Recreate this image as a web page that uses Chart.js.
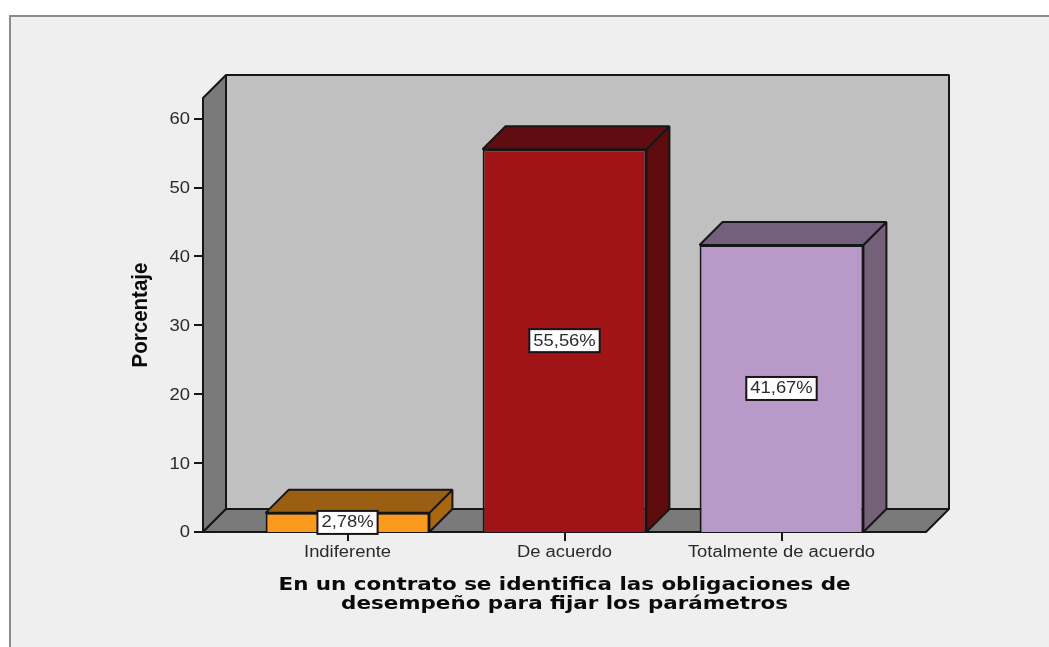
<!DOCTYPE html>
<html>
<head>
<meta charset="utf-8">
<style>
html,body{margin:0;padding:0;background:#fff;overflow:hidden}
#frame{position:absolute;left:9px;top:15px;width:1040px;height:632px;box-sizing:border-box;background:#efefef;border-top:2px solid #8c8c8c;border-left:2px solid #8c8c8c}
canvas{position:absolute;left:0;top:0}
</style>
<script src="https://cdn.jsdelivr.net/npm/chart.js@4"></script>
</head>
<body>
<div id="frame"></div>
<canvas id="c" width="1049" height="647"></canvas>
<script>
const categories = ['Indiferente', 'De acuerdo', 'Totalmente de acuerdo'];
const percentages = [2.78, 55.56, 41.67];
const valueLabels = ['2,78%', '55,56%', '41,67%'];
const yTicks = [0, 10, 20, 30, 40, 50, 60];
const yAxisTitle = 'Porcentaje';
const xAxisTitle = ['En un contrato se identifica las obligaciones de', 'desempeño para fijar los parámetros'];
const frontColors = ['#fb9a1f', '#a01418', '#b899c8'];
const topColors = ['#9a5f12', '#600c10', '#73607d'];
const sideColors = ['#a8680f', '#5e0b0e', '#75607a'];

const DEPTH = 23, WALL_PAD = 36, INK = '#161616', LABEL_STRETCH = 1.15;

const canvas = document.getElementById('c');
const context = canvas.getContext('2d');

// The reference picture is stretched horizontally, so its glyphs are wider than any installed font.
const rawFillText = context.fillText.bind(context);
context.fillText = function (text, x, y) {
  const f = context.font;
  let sx = 1, sy = 1, dy = 0;
  if (f.includes('bold') && f.includes('DejaVu')) sx = 1.19;
  else if (f.includes('bold')) sy = 1.08;
  else { sx = LABEL_STRETCH; dy = 1; }
  context.save();
  context.translate(x, y + dy);
  context.scale(sx, sy);
  rawFillText(text, 0, 0);
  context.restore();
};

function poly(ctx, pts, fill) {
  ctx.beginPath();
  pts.forEach((p, i) => i ? ctx.lineTo(p[0], p[1]) : ctx.moveTo(p[0], p[1]));
  ctx.closePath();
  ctx.fillStyle = fill;
  ctx.fill();
  ctx.lineWidth = 2;
  ctx.strokeStyle = INK;
  ctx.lineJoin = 'bevel';
  ctx.stroke();
}

const box3d = {
  id: 'box3d',
  beforeDatasetsDraw(chart) {
    const { ctx, chartArea: a, scales: { y } } = chart;
    const L = a.left - WALL_PAD, R = a.right + WALL_PAD, T = a.top, B = y.getPixelForValue(0), d = DEPTH;
    ctx.save();
    poly(ctx, [[L + d, T - d], [R + d, T - d], [R + d, B - d], [L + d, B - d]], '#c0c0c0');
    poly(ctx, [[L, T], [L + d, T - d], [L + d, B - d], [L, B]], '#7a7a7a');
    poly(ctx, [[L, B], [L + d, B - d], [R + d, B - d], [R, B]], '#7a7a7a');
    ctx.strokeStyle = INK;
    ctx.lineWidth = 2;
    yTicks.forEach(v => {
      const py = Math.round(y.getPixelForValue(v));
      ctx.beginPath(); ctx.moveTo(L - 9, py); ctx.lineTo(L, py); ctx.stroke();
    });
    chart.getDatasetMeta(0).data.forEach((bar, i) => {
      const l = bar.x - bar.width / 2, r = bar.x + bar.width / 2, t = bar.y, b = bar.base;
      poly(ctx, [[r, b], [r + d, b - d], [r + d, t - d], [r, t]], sideColors[i]);
      poly(ctx, [[l, t], [l + d, t - d], [r + d, t - d], [r, t]], topColors[i]);
    });
    ctx.restore();
  },
  afterDatasetsDraw(chart) {
    const { ctx } = chart;
    ctx.save();
    ctx.font = '16px "Liberation Sans"';
    ctx.textAlign = 'center';
    ctx.textBaseline = 'middle';
    chart.getDatasetMeta(0).data.forEach((bar, i) => {
      const cy = (bar.y + bar.base) / 2, text = valueLabels[i];
      const w = ctx.measureText(text).width * LABEL_STRETCH + 8, h = 23;
      ctx.fillStyle = '#fff';
      ctx.fillRect(bar.x - w / 2, cy - h / 2, w, h);
      ctx.strokeStyle = INK;
      ctx.lineWidth = 2;
      ctx.strokeRect(bar.x - w / 2, cy - h / 2, w, h);
      ctx.fillStyle = '#2a2a2a';
      ctx.fillText(text, bar.x, cy - 0.5);
    });
    ctx.restore();
  }
};

new Chart(canvas, {
  type: 'bar',
  plugins: [box3d],
  data: {
    labels: categories,
    datasets: [{
      data: percentages,
      backgroundColor: frontColors,
      borderColor: INK,
      borderWidth: 2,
      barPercentage: 0.755,
      categoryPercentage: 1
    }]
  },
  options: {
    responsive: false,
    animation: false,
    layout: { padding: { top: 98, right: 159, left: 0, bottom: 0 } },
    plugins: { legend: { display: false }, tooltip: { enabled: false } },
    scales: {
      x: {
        grid: { offset: false, drawOnChartArea: false, drawTicks: true, tickLength: 9, color: INK, lineWidth: 2 },
        border: { display: false },
        ticks: { maxRotation: 0, autoSkip: false, padding: 1, color: '#2a2a2a', font: { family: '"Liberation Sans"', size: 16 } },
        title: { display: true, text: xAxisTitle, color: '#0a0a0a', font: { family: '"DejaVu Sans"', size: 18, weight: 'bold', lineHeight: 1.06 }, padding: { top: 10, bottom: 33 } },
        afterFit(s) { s.height = 115; }
      },
      y: {
        min: 0,
        max: 63,
        grid: { display: false },
        border: { display: false },
        ticks: { stepSize: 10, includeBounds: false, padding: 41, color: '#2a2a2a', font: { family: '"Liberation Sans"', size: 16 } },
        title: { display: true, text: yAxisTitle, color: '#0a0a0a', font: { family: '"Liberation Sans"', size: 20.5, weight: 'bold' }, padding: { top: 129, bottom: 0 } },
        afterFit(s) { s.width = 239; }
      }
    }
  }
});
</script>
</body>
</html>
